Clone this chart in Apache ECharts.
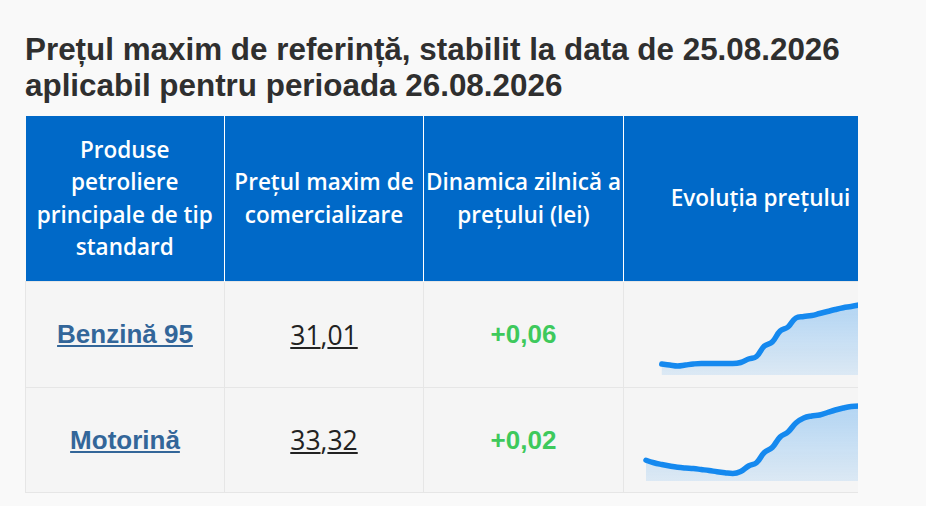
<!DOCTYPE html>
<html>
<head>
<meta charset="utf-8">
<script src="https://cdn.jsdelivr.net/npm/echarts@6/dist/echarts.min.js"></script>
<style>
    html, body { margin: 0; padding: 0; }
    body { width: 926px; height: 506px; background: #f9f9f9; position: relative; overflow: hidden; }
    #title {
        position: absolute; left: 25px; top: 32px; margin: 0;
        font: bold 31.4px/36px "Liberation Sans", Arial, sans-serif; color: #2f2f2f;
        white-space: nowrap;
    }
    #wrap { position: absolute; left: 25px; top: 116px; width: 833px; overflow: hidden; }
    table { border-collapse: collapse; table-layout: fixed; width: 872px; }
    th {
        background: #0069c8; color: #fff; height: 165px; padding: 0;
        font: 600 22.5px/32.5px "Open Sans", sans-serif; text-align: center; vertical-align: middle;
        border-right: 1px solid #fff; white-space: nowrap;
    }
    td {
        background: #f5f5f5; border: 1px solid #e6e6e6; padding: 0;
        text-align: center; vertical-align: middle; white-space: nowrap;
    }
    td.name a { font: bold 26px "Liberation Sans", Arial, sans-serif; color: #336699; text-decoration: underline; }
    td.price { font: 400 26.5px "Open Sans", sans-serif; color: #222; }
    td.price span { text-decoration: underline; }
    td.diff { font: bold 26px "Liberation Sans", Arial, sans-serif; color: #3ec95c; }
    td.chart { position: relative; border-right: none; }
    .spark { position: absolute; left: 0; top: 0; width: 274px; }
</style>
</head>
<body>
<h1 id="title">Prețul maxim de referință, stabilit la data de 25.08.2026<br>aplicabil pentru perioada 26.08.2026</h1>
<div id="wrap">
<table>
    <colgroup><col style="width:199px"><col style="width:199px"><col style="width:200px"><col style="width:274px"></colgroup>
    <thead>
    <tr>
        <th>Produse<br>petroliere<br>principale de tip<br>standard</th>
        <th>Prețul maxim de<br>comercializare</th>
        <th>Dinamica zilnică a<br>prețului (lei)</th>
        <th>Evoluția prețului</th>
    </tr>
    </thead>
    <tbody id="rows"></tbody>
</table>
</div>
<script>
    // ultimele 28 de zile
    var days = ['29.07','30.07','31.07','01.08','02.08','03.08','04.08','05.08','06.08','07.08',
        '08.08','09.08','10.08','11.08','12.08','13.08','14.08','15.08','16.08','17.08',
        '18.08','19.08','20.08','21.08','22.08','23.08','24.08','25.08'];
    var products = ['Benzină 95', 'Motorină'];
    var prices = ['31,01', '33,32'];
    var diffs = ['+0,06', '+0,02'];
    var benzina = [null, null, 28.65, 28.61, 28.57, 28.61, 28.65, 28.67, 28.67, 28.67,
        28.67, 28.67, 28.71, 28.85, 28.95, 29.37, 29.53, 29.97, 30.13, 30.49,
        30.55, 30.59, 30.67, 30.75, 30.83, 30.90, 30.95, 31.01];
    var motorina = [31.15, 31.05, 30.98, 30.92, 30.87, 30.84, 30.82, 30.78, 30.74, 30.69,
        30.65, 30.62, 30.70, 30.92, 31.05, 31.46, 31.66, 32.08, 32.28, 32.64,
        32.84, 32.92, 32.96, 33.06, 33.16, 33.24, 33.30, 33.32];
    var yMin = [28.21, 30.32];
    var yMax = [31.01, 33.32];

    var series = [benzina, motorina];
    var rowH = [106, 105];
    var gridTop = [23, 18];
    var gridBottom = [13, 12];

    var tbody = document.getElementById('rows');
    for (var i = 0; i < products.length; i++) {
        var tr = document.createElement('tr');
        tr.style.height = rowH[i] + 'px';
        var p = prices[i].split(',');
        tr.innerHTML = '<td class="name"><a href="#">' + products[i] + '</a></td>' +
            '<td class="price"><span>' + p[0] + '</span>,<span>' + p[1] + '</span></td>' +
            '<td class="diff">' + diffs[i] + '</td>' +
            '<td class="chart"><div class="spark" id="spark' + i + '" style="height:' + rowH[i] + 'px"></div></td>';
        tbody.appendChild(tr);
    }

    function sparkOption(data, idx) {
        return {
            animation: false,
            grid: { left: 22, right: 39, top: gridTop[idx], bottom: gridBottom[idx] },
            xAxis: { type: 'category', data: days, boundaryGap: false, show: false },
            yAxis: { type: 'value', min: yMin[idx], max: yMax[idx], show: false },
            series: [{
                type: 'line',
                data: data,
                smooth: 0.4,
                symbol: 'none',
                clip: false,
                lineStyle: { color: '#1589ef', width: 5.5, cap: 'round', join: 'round' },
                areaStyle: {
                    color: new echarts.graphic.LinearGradient(0, 0, 0, 1, [
                        { offset: 0, color: 'rgba(21,137,239,0.42)' },
                        { offset: 1, color: 'rgba(21,137,239,0.16)' }
                    ])
                }
            }]
        };
    }

    for (var j = 0; j < series.length; j++) {
        var chart = echarts.init(document.getElementById('spark' + j), null, { renderer: 'canvas' });
        chart.setOption(sparkOption(series[j], j));
    }
</script>
</body>
</html>
